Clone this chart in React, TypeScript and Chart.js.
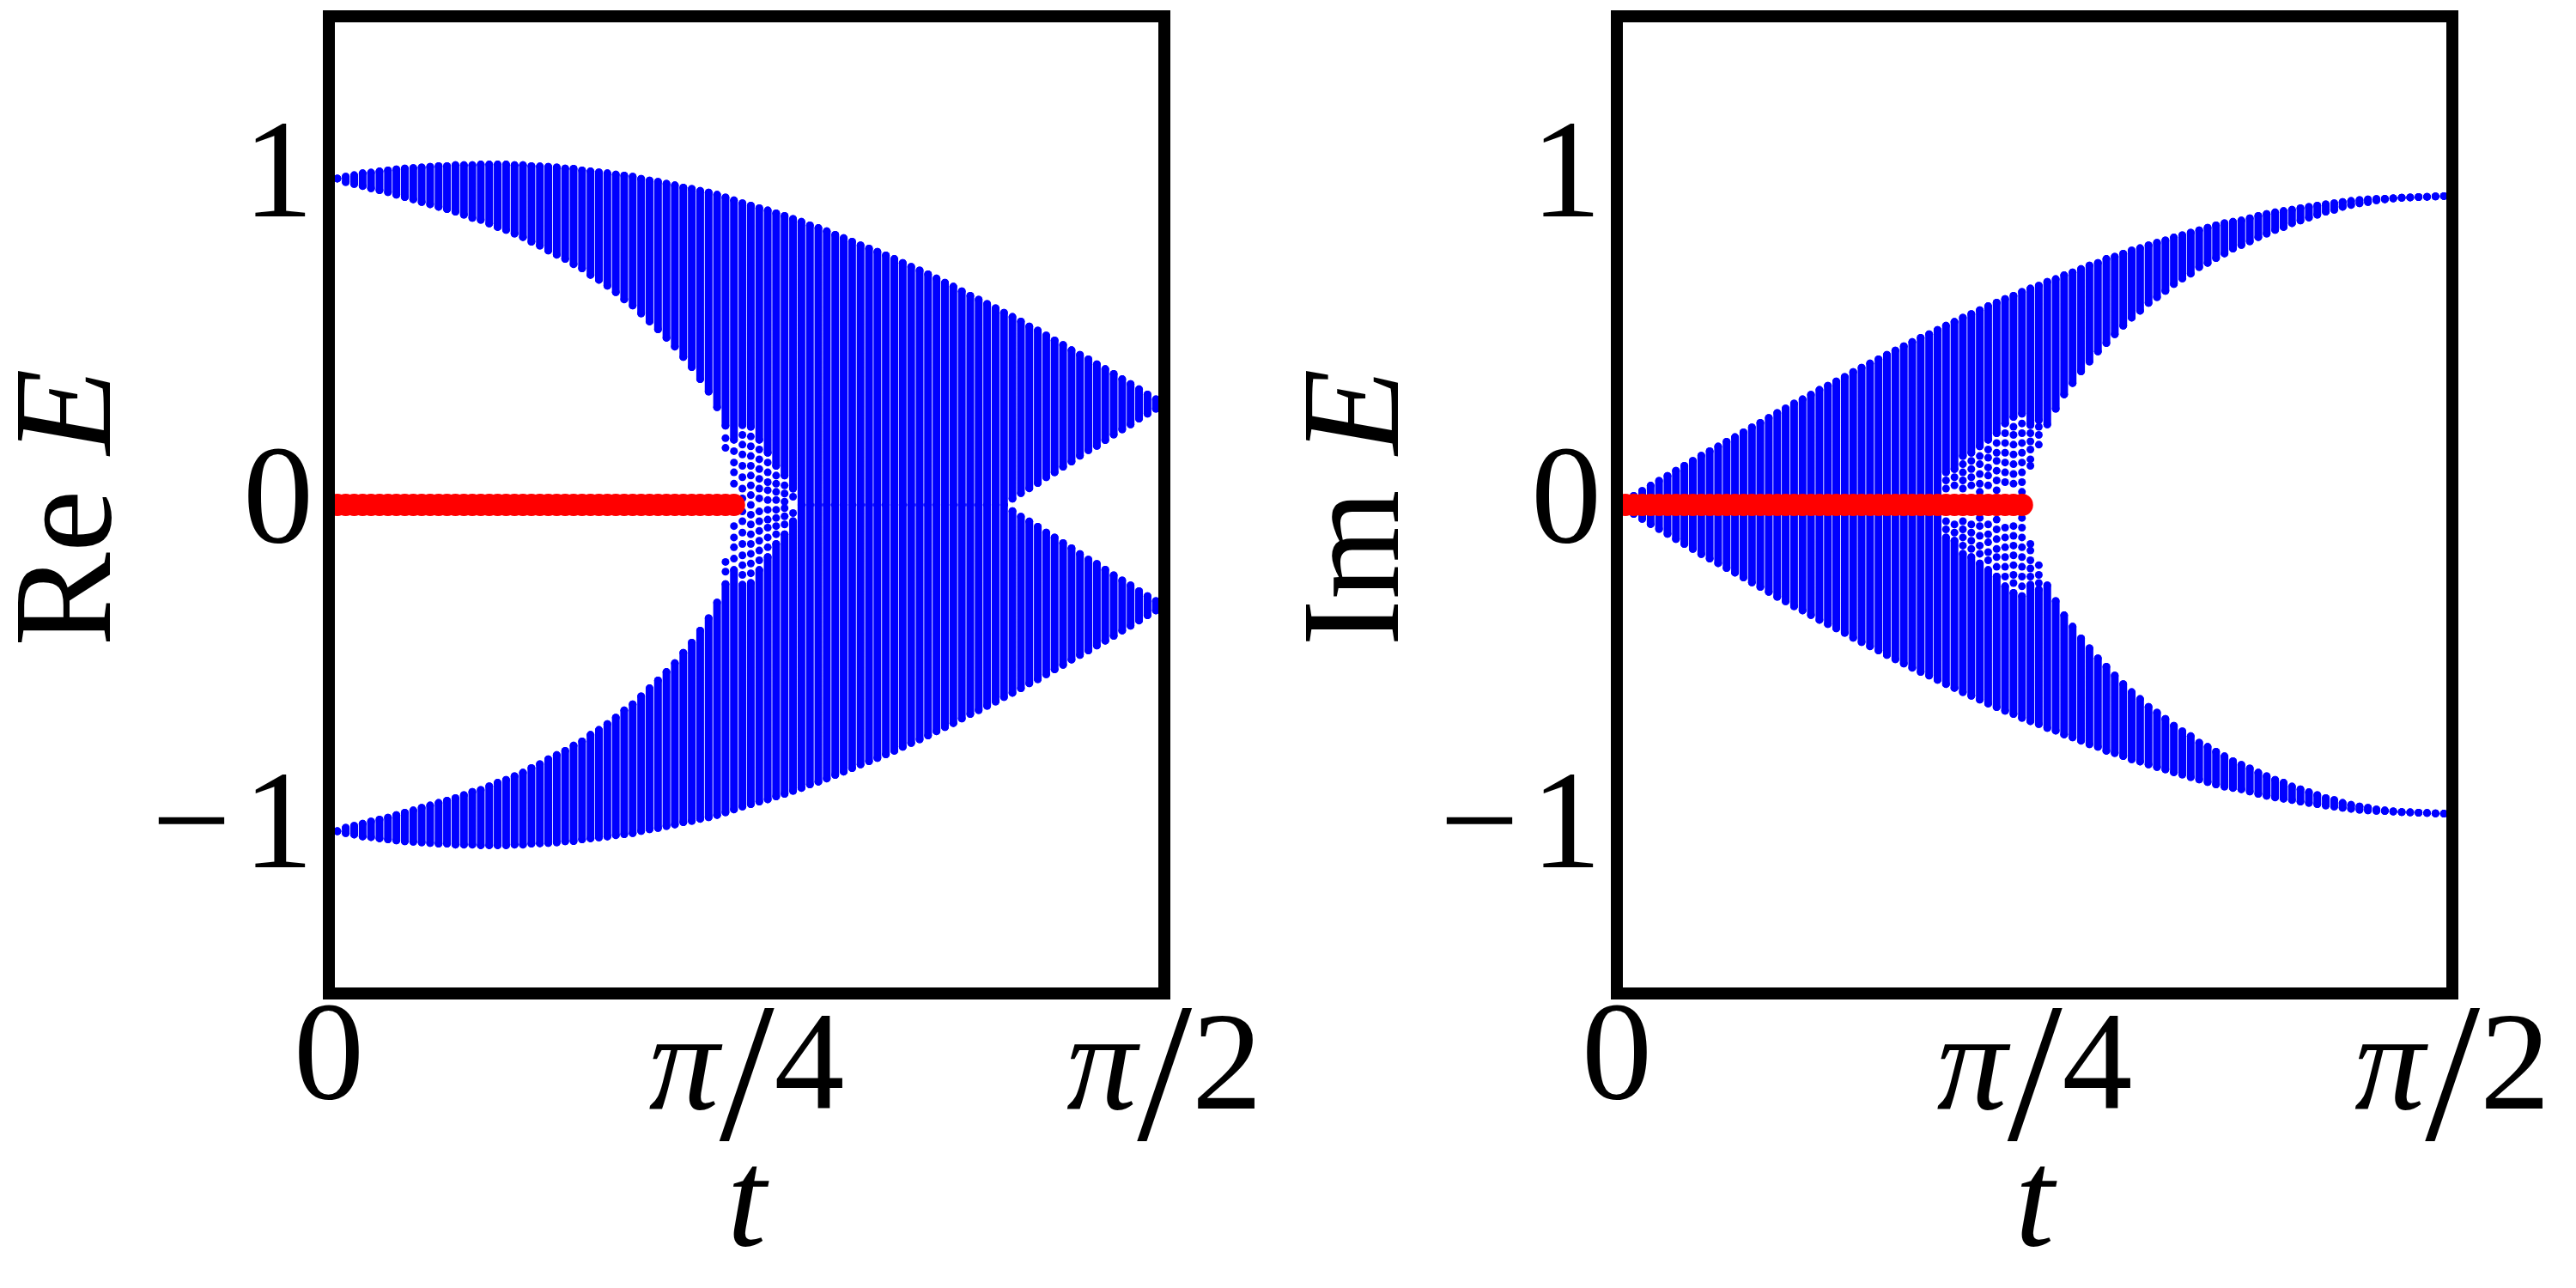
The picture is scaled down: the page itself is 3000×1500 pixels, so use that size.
import React, { useEffect, useRef } from "react";
import { Chart, registerables } from "chart.js";

Chart.register(...registerables);

// ---------------- data ----------------
// t grid (100 columns between 0 and pi/2)
const tValues = [
  0.0, 0.0159, 0.0317, 0.0476, 0.0635, 0.0793, 0.0952, 0.1111, 0.1269, 0.1428,
  0.1587, 0.1745, 0.1904, 0.2063, 0.2221, 0.238, 0.2539, 0.2697, 0.2856, 0.3015,
  0.3173, 0.3332, 0.3491, 0.3649, 0.3808, 0.3967, 0.4125, 0.4284, 0.4443, 0.4601,
  0.476, 0.4919, 0.5077, 0.5236, 0.5395, 0.5553, 0.5712, 0.5871, 0.6029, 0.6188,
  0.6347, 0.6505, 0.6664, 0.6823, 0.6981, 0.714, 0.7299, 0.7457, 0.7616, 0.7775,
  0.7933, 0.8092, 0.8251, 0.8409, 0.8568, 0.8727, 0.8885, 0.9044, 0.9203, 0.9361,
  0.952, 0.9679, 0.9837, 0.9996, 1.0155, 1.0313, 1.0472, 1.0631, 1.0789, 1.0948,
  1.1107, 1.1265, 1.1424, 1.1583, 1.1741, 1.19, 1.2059, 1.2217, 1.2376, 1.2535,
  1.2693, 1.2852, 1.3011, 1.3169, 1.3328, 1.3487, 1.3645, 1.3804, 1.3963, 1.4121,
  1.428, 1.4439, 1.4597, 1.4756, 1.4915, 1.5073, 1.5232, 1.5391, 1.5549, 1.5708,
];

// Re E : upper band, outer edge (band is mirrored to negative values)
const reOuter = [
  1.0, 1.002, 1.008, 1.012, 1.018, 1.02, 1.024, 1.027, 1.03, 1.033,
  1.034, 1.036, 1.038, 1.04, 1.04, 1.043, 1.043, 1.043, 1.045, 1.045,
  1.045, 1.045, 1.043, 1.043, 1.04, 1.039, 1.038, 1.036, 1.033, 1.032,
  1.027, 1.024, 1.021, 1.018, 1.014, 1.011, 1.008, 1.001, 0.996, 0.992,
  0.986, 0.981, 0.974, 0.97, 0.964, 0.959, 0.952, 0.944, 0.935, 0.926,
  0.919, 0.911, 0.904, 0.895, 0.887, 0.878, 0.869, 0.858, 0.85, 0.84,
  0.829, 0.819, 0.808, 0.797, 0.787, 0.777, 0.766, 0.755, 0.743, 0.731,
  0.72, 0.708, 0.695, 0.682, 0.67, 0.656, 0.642, 0.63, 0.617, 0.604,
  0.59, 0.577, 0.563, 0.548, 0.535, 0.52, 0.505, 0.491, 0.475, 0.461,
  0.447, 0.432, 0.417, 0.402, 0.386, 0.371, 0.355, 0.339, 0.324, 0.31,
];
// Re E : upper band, inner edge of the dense part
const reInner = [
  1.0, 1.002, 0.991, 0.985, 0.979, 0.972, 0.966, 0.96, 0.952, 0.945,
  0.938, 0.93, 0.923, 0.915, 0.908, 0.9, 0.891, 0.881, 0.875, 0.864,
  0.853, 0.844, 0.833, 0.822, 0.808, 0.796, 0.781, 0.768, 0.755, 0.739,
  0.726, 0.706, 0.691, 0.673, 0.653, 0.631, 0.612, 0.588, 0.563, 0.539,
  0.513, 0.486, 0.454, 0.423, 0.386, 0.348, 0.3, 0.243, 0.2, 0.245,
  0.24, 0.2, 0.16, 0.12, 0.09, 0.05, 0.0, 0.0, 0.0, 0.0,
  0.0, 0.0, 0.0, 0.0, 0.0, 0.0, 0.0, 0.0, 0.0, 0.0,
  0.0, 0.0, 0.0, 0.0, 0.0, 0.0, 0.0, 0.0, 0.0, 0.0,
  0.0, 0.019, 0.036, 0.051, 0.067, 0.085, 0.1, 0.117, 0.133, 0.151,
  0.168, 0.181, 0.199, 0.216, 0.232, 0.247, 0.265, 0.28, 0.295, 0.31,
];
// Re E : isolated dots near the exceptional point (column index, |E| values)
const reDotColumns = [47, 48, 49, 50, 51, 52, 53, 54, 55];
const reDotValues = [
  [0.205, 0.175],
  [0.165, 0.13, 0.1, 0.065],
  [0.215, 0.185, 0.155, 0.12, 0.085, 0.05, 0.02],
  [0.21, 0.18, 0.15, 0.12, 0.09, 0.06, 0.03, 0.0],
  [0.17, 0.14, 0.11, 0.08, 0.05, 0.02],
  [0.13, 0.1, 0.07, 0.045, 0.015],
  [0.09, 0.065, 0.04, 0.015],
  [0.06, 0.035, 0.01],
  [0.025],
];

// Im E : outer edge
const imOuter = [
  0.0, 0.013, 0.028, 0.043, 0.059, 0.074, 0.089, 0.105, 0.12, 0.135,
  0.151, 0.165, 0.179, 0.194, 0.208, 0.223, 0.238, 0.252, 0.267, 0.282,
  0.296, 0.311, 0.324, 0.338, 0.353, 0.366, 0.379, 0.393, 0.408, 0.421,
  0.434, 0.447, 0.461, 0.474, 0.487, 0.5, 0.513, 0.524, 0.537, 0.55,
  0.562, 0.575, 0.586, 0.598, 0.61, 0.621, 0.632, 0.642, 0.654, 0.664,
  0.673, 0.685, 0.693, 0.705, 0.714, 0.724, 0.735, 0.743, 0.755, 0.762,
  0.771, 0.781, 0.788, 0.797, 0.805, 0.812, 0.821, 0.828, 0.836, 0.843,
  0.851, 0.858, 0.865, 0.869, 0.873, 0.88, 0.887, 0.893, 0.898, 0.902,
  0.906, 0.911, 0.915, 0.919, 0.923, 0.926, 0.93, 0.933, 0.936, 0.938,
  0.939, 0.94, 0.941, 0.943, 0.944, 0.945, 0.946, 0.947, 0.948, 0.948,
];
// Im E : inner edge of the dense part
const imInner = [
  0.0, 0.0, 0.0, 0.0, 0.0, 0.0, 0.0, 0.0, 0.0, 0.0,
  0.0, 0.0, 0.0, 0.0, 0.0, 0.0, 0.0, 0.0, 0.0, 0.0,
  0.0, 0.0, 0.0, 0.0, 0.0, 0.0, 0.0, 0.0, 0.0, 0.0,
  0.0, 0.0, 0.0, 0.0, 0.0, 0.0, 0.0, 0.0, 0.0, 0.1,
  0.11, 0.15, 0.16, 0.18, 0.2, 0.22, 0.25, 0.27, 0.28, 0.245,
  0.26, 0.247, 0.295, 0.339, 0.374, 0.41, 0.44, 0.471, 0.497, 0.524,
  0.55, 0.575, 0.596, 0.62, 0.638, 0.657, 0.678, 0.695, 0.71, 0.73,
  0.743, 0.758, 0.772, 0.787, 0.798, 0.809, 0.822, 0.833, 0.844, 0.853,
  0.865, 0.873, 0.882, 0.891, 0.9, 0.906, 0.915, 0.921, 0.926, 0.93,
  0.935, 0.938, 0.941, 0.943, 0.944, 0.945, 0.946, 0.947, 0.948, 0.948,
];
const imDotColumns = [39, 40, 41, 42, 43, 44, 45, 46, 47, 48, 49, 50];
const imDotValues = [
  [0.075, 0.05],
  [0.085, 0.06],
  [0.125, 0.1, 0.075, 0.05],
  [0.135, 0.11, 0.085, 0.06],
  [0.15, 0.125, 0.095, 0.065, 0.04],
  [0.17, 0.145, 0.115, 0.09, 0.06],
  [0.19, 0.16, 0.135, 0.105, 0.075, 0.045],
  [0.22, 0.19, 0.16, 0.13, 0.1, 0.07],
  [0.24, 0.215, 0.185, 0.155, 0.125, 0.095, 0.065],
  [0.25, 0.22, 0.19, 0.16, 0.13, 0.1, 0.07, 0.04],
  [0.22, 0.195, 0.17, 0.14, 0.12],
  [0.24, 0.215, 0.185],
];

// red zero modes (first 49 columns, E = 0)
const zeroModeE = [
  0, 0, 0, 0, 0, 0, 0, 0, 0, 0, 0, 0, 0, 0, 0, 0, 0, 0, 0, 0, 0, 0, 0, 0, 0,
  0, 0, 0, 0, 0, 0, 0, 0, 0, 0, 0, 0, 0, 0, 0, 0, 0, 0, 0, 0, 0, 0, 0, 0,
];

// ticks
const yTickValues = [-1, 0, 1];
const yTickLabels = ["\u2212\u200a1", "0", "1"];
const xTickValues = [0, 0.7854, 1.5708];
const xTickLabels = ["0", "\u03c0/4", "\u03c0/2"];
const xTitle = "t";

// ---------------- helpers ----------------
const BLUE = "#0000ff";
const RED = "#ff0000";
const FONT = '"Liberation Serif", "Times New Roman", serif';
const FS = 164;

function bandPoints(outer: number[], inner: number[]) {
  const pts: { x: number; y: number | null }[] = [];
  tValues.forEach((t, k) => {
    pts.push({ x: t, y: inner[k] }, { x: t, y: outer[k] }, { x: t, y: null });
    pts.push({ x: t, y: -outer[k] }, { x: t, y: -inner[k] }, { x: t, y: null });
  });
  return pts;
}

function dotPoints(cols: number[], vals: number[][]) {
  const pts: { x: number; y: number }[] = [];
  cols.forEach((k, i) => {
    vals[i].forEach((v) => {
      pts.push({ x: tValues[k], y: v });
      if (v !== 0) pts.push({ x: tValues[k], y: -v });
    });
  });
  return pts;
}

function zeroPoints() {
  return zeroModeE.map((e, k) => ({ x: tValues[k], y: e }));
}

const decorPlugin = {
  id: "decor",
  afterDraw(chart: any) {
    const { ctx, chartArea: a } = chart;
    const xs = chart.scales.x;
    const opts = chart.options.plugins.decor || {};
    ctx.save();
    // frame
    ctx.strokeStyle = "#000";
    ctx.lineWidth = 14;
    ctx.lineJoin = "miter";
    ctx.strokeRect(a.left, a.top, a.right - a.left, a.bottom - a.top);

    ctx.fillStyle = "#000";
    ctx.textBaseline = "alphabetic";
    ctx.textAlign = "left";
    const up = `${FS}px ${FONT}`;
    const it = `italic ${FS}px ${FONT}`;
    const sl = `${Math.round(FS * 1.4)}px ${FONT}`;

    // x tick labels
    xTickValues.forEach((v, i) => {
      const cx = xs.getPixelForValue(v);
      const label = xTickLabels[i];
      if (label.indexOf("/") < 0) {
        ctx.font = up;
        const w = ctx.measureText(label).width;
        ctx.fillText(label, cx - w / 2, a.bottom + 122);
      } else {
        const [num, den] = label.split("/");
        ctx.font = it;
        const w1 = ctx.measureText(num).width;
        ctx.font = sl;
        const w2 = ctx.measureText("/").width;
        ctx.font = up;
        const w3 = ctx.measureText(den).width;
        let x0 = cx - (w1 + w2 + w3) / 2;
        ctx.font = it;
        ctx.fillText(num, x0, a.bottom + 134);
        x0 += w1;
        ctx.font = sl;
        ctx.fillText("/", x0, a.bottom + 170);
        x0 += w2;
        ctx.font = up;
        ctx.fillText(den, x0, a.bottom + 134);
      }
    });

    // x title
    ctx.font = it;
    const wt = ctx.measureText(xTitle).width;
    ctx.fillText(xTitle, (a.left + a.right) / 2 - wt / 2, a.bottom + 293);

    // y title (rotated): upright prefix + italic E
    const pre = opts.prefix || "";
    const vname = "E";
    ctx.translate(128, (a.top + a.bottom) / 2 + 3);
    ctx.rotate(-Math.PI / 2);
    ctx.font = up;
    const wp = ctx.measureText(pre + " ").width;
    ctx.font = it;
    const we = ctx.measureText(vname).width;
    let x0 = -(wp + we) / 2;
    ctx.font = up;
    ctx.fillText(pre + " ", x0, 0);
    x0 += wp;
    ctx.font = it;
    ctx.fillText(vname, x0, 0);
    ctx.restore();
  },
};

function makeConfig(prefix: string, outer: number[], inner: number[], dCols: number[], dVals: number[][]): any {
  return {
    type: "scatter",
    data: {
      datasets: [
        {
          label: "zero modes",
          data: zeroPoints(),
          pointRadius: 13,
          pointBackgroundColor: RED,
          pointBorderWidth: 0,
          showLine: false,
        },
        {
          label: "isolated",
          data: dotPoints(dCols, dVals),
          pointRadius: 4.5,
          pointBackgroundColor: BLUE,
          pointBorderWidth: 0,
          showLine: false,
        },
        {
          label: "bulk",
          data: bandPoints(outer, inner),
          showLine: true,
          spanGaps: false,
          borderColor: BLUE,
          borderWidth: 9,
          borderCapStyle: "round",
          borderJoinStyle: "round",
          pointRadius: 4.5,
          pointBackgroundColor: BLUE,
          pointBorderWidth: 0,
        },
      ],
    },
    options: {
      responsive: false,
      animation: false,
      events: [],
      layout: { padding: { left: 0, right: 144, top: 19, bottom: 343 } },
      plugins: {
        legend: { display: false },
        tooltip: { enabled: false },
        decor: { prefix },
      },
      scales: {
        x: { type: "linear", min: 0, max: Math.PI / 2, display: false },
        y: {
          type: "linear",
          position: "left",
          min: -1.5,
          max: 1.5,
          grid: { display: false, drawTicks: false },
          border: { display: false },
          afterBuildTicks: (s: any) => {
            s.ticks = yTickValues.map((v) => ({ value: v }));
          },
          afterFit: (s: any) => {
            s.width = 383;
            s.paddingTop = 0;
            s.paddingBottom = 0;
          },
          ticks: {
            autoSkip: false,
            padding: 18,
            color: "#000",
            font: { family: FONT, size: FS, lineHeight: 1 },
            callback: (v: number) => {
              const i = yTickValues.indexOf(v);
              return i >= 0 ? yTickLabels[i] : "";
            },
          },
        },
      },
    },
    plugins: [decorPlugin],
  };
}

export default function App() {
  const leftRef = useRef<HTMLCanvasElement>(null);
  const rightRef = useRef<HTMLCanvasElement>(null);

  useEffect(() => {
    const c1 = new Chart(leftRef.current as HTMLCanvasElement, makeConfig("Re", reOuter, reInner, reDotColumns, reDotValues));
    const c2 = new Chart(rightRef.current as HTMLCanvasElement, makeConfig("Im", imOuter, imInner, imDotColumns, imDotValues));
    return () => {
      c1.destroy();
      c2.destroy();
    };
  }, []);

  return (
    <div style={{ position: "fixed", left: 0, top: 0, width: 3000, height: 1500, background: "#fff" }}>
      <canvas ref={leftRef} width={1500} height={1500} style={{ position: "absolute", left: 0, top: 0, width: 1500, height: 1500 }} />
      <canvas ref={rightRef} width={1500} height={1500} style={{ position: "absolute", left: 1500, top: 0, width: 1500, height: 1500 }} />
    </div>
  );
}
